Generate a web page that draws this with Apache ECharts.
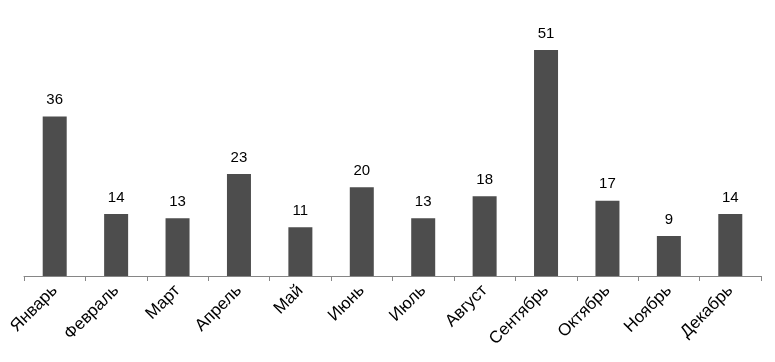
<!DOCTYPE html>
<html><head><meta charset="utf-8">
<script src="https://cdn.jsdelivr.net/npm/echarts@6/dist/echarts.min.js"></script>
<style>html,body{margin:0;padding:0;background:#fff}#c{width:775px;height:362px}</style>
</head><body><div id="c"></div>
<script>
const categories = ['Январь','Февраль','Март','Апрель','Май','Июнь','Июль','Август','Сентябрь','Октябрь','Ноябрь','Декабрь'];
const values = [36,14,13,23,11,20,13,18,51,17,9,14];
const chart = echarts.init(document.getElementById('c'), null, {renderer:'canvas'});
chart.setOption({
  animation:false,
  grid:{left:24,right:14,top:10,bottom:86,containLabel:false},
  xAxis:{type:'category',data:categories,
    axisLine:{lineStyle:{color:'#868686',width:1}},
    axisTick:{show:true,length:5,lineStyle:{color:'#868686'}},
    axisLabel:{rotate:45,margin:12,interval:0,color:'#000',fontFamily:'Liberation Sans, Arial',fontSize:17}},
  yAxis:{type:'value',min:0,max:60,show:false,splitLine:{show:false}},
  series:[{type:'bar',data:values,barWidth:24,
    itemStyle:{color:'#4d4d4d'},
    label:{show:true,position:'top',distance:9,color:'#000',fontFamily:'Liberation Sans, Arial',fontSize:15}}]
});
</script></body></html>
